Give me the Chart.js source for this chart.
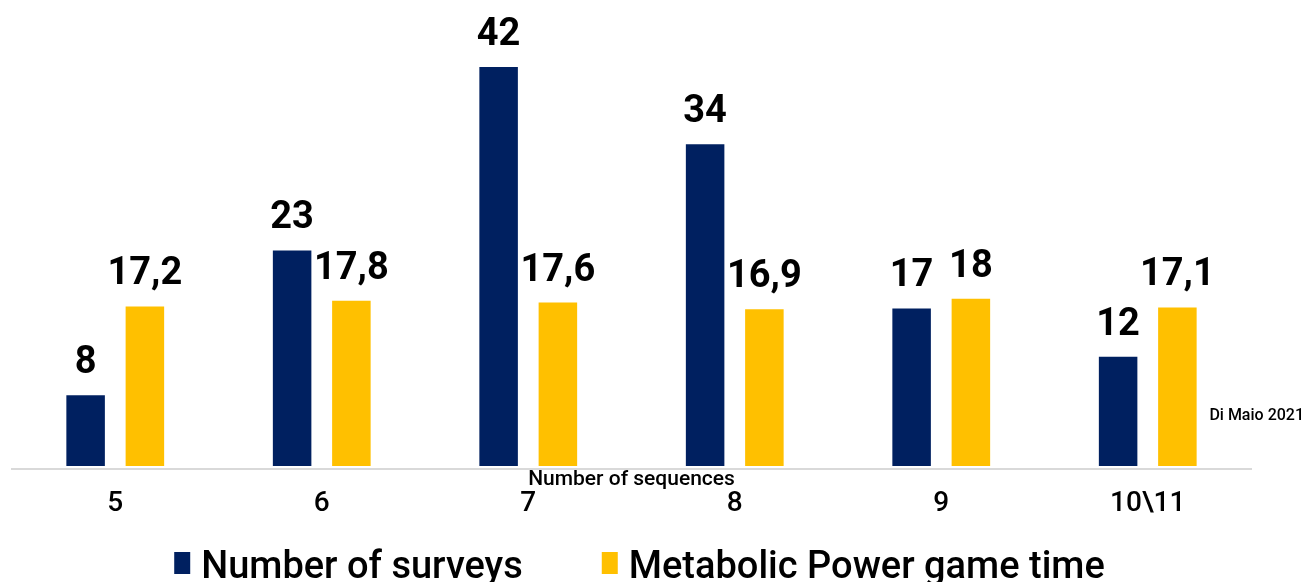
<!DOCTYPE html>
<html>
<head>
<meta charset="utf-8">
<script src="https://cdn.jsdelivr.net/npm/chart.js@4"></script>
<style>
  html, body { margin: 0; padding: 0; background: #ffffff; }
  canvas { display: block; }
</style>
</head>
<body>
<canvas id="chart" width="1307" height="582"></canvas>
<script>
// Categories and series
const categories = ['5', '6', '7', '8', '9', '10\\11'];
const surveys = [8, 23, 42, 34, 17, 12];
const gameTime = [17.2, 17.8, 17.6, 16.9, 18, 17.1];
const seriesNames = ['Number of surveys', 'Metabolic Power game time'];
const axisTitle = 'Number of sequences';
const sourceNote = 'Di Maio 2021';

const NAVY = '#002060';
const GOLD = '#FFC000';
const FONT = 'Roboto';

Chart.defaults.font.family = FONT;
Chart.defaults.color = '#000000';

// Numbers use a decimal comma
const fmt = v => String(v).replace('.', ',');

// Value above each bar
const valueLabels = {
  id: 'valueLabels',
  afterDatasetsDraw(chart) {
    const ctx = chart.ctx;
    ctx.save();
    ctx.font = `bold 38px ${FONT}`;
    ctx.fillStyle = '#000000';
    ctx.textAlign = 'center';
    ctx.textBaseline = 'alphabetic';
    chart.data.datasets.forEach((ds, i) => {
      chart.getDatasetMeta(i).data.forEach((bar, j) => {
        ctx.fillText(fmt(ds.data[j]), bar.x, bar.y - 22);
      });
    });
    ctx.restore();
  }
};

// Legend row along the bottom edge
const bottomLegend = {
  id: 'bottomLegend',
  afterDraw(chart) {
    const ctx = chart.ctx;
    const area = chart.chartArea;
    const boxW = 16, boxH = 22, boxGap = 11, itemGap = 79;
    ctx.save();
    ctx.font = `500 38px ${FONT}`;
    const items = chart.data.datasets.map(ds => ({
      text: ds.label, color: ds.backgroundColor, w: ctx.measureText(ds.label).width
    }));
    const total = items.reduce((s, it) => s + boxW + boxGap + it.w, 0) + itemGap * (items.length - 1);
    let x = (area.left + area.right) / 2 + 8 - total / 2;
    const cy = 563;
    items.forEach(it => {
      ctx.fillStyle = it.color;
      ctx.fillRect(x, cy - boxH / 2, boxW, boxH);
      x += boxW + boxGap;
      ctx.fillStyle = '#000000';
      ctx.textAlign = 'left';
      ctx.textBaseline = 'alphabetic';
      ctx.fillText(it.text, x, cy + 15);
      x += it.w + itemGap;
    });
    ctx.restore();
  }
};

// Source note at the right edge
const noteText = {
  id: 'noteText',
  afterDraw(chart) {
    const ctx = chart.ctx;
    ctx.save();
    ctx.font = `500 16px ${FONT}`;
    ctx.fillStyle = '#000000';
    ctx.textAlign = 'right';
    ctx.textBaseline = 'middle';
    ctx.fillText(sourceNote, chart.width - 3, 416);
    ctx.restore();
  }
};

new Chart(document.getElementById('chart'), {
  type: 'bar',
  data: {
    labels: categories,
    datasets: [
      { label: seriesNames[0], data: surveys, backgroundColor: NAVY, base: 0.68 },
      { label: seriesNames[1], data: gameTime, backgroundColor: GOLD, base: 0.68 }
    ]
  },
  options: {
    responsive: false,
    animation: false,
    events: [],
    categoryPercentage: 0.574,
    barPercentage: 0.65,
    layout: { padding: { top: 20, left: 12, right: 56, bottom: 64 } },
    plugins: {
      legend: { display: false },
      tooltip: { enabled: false },
      title: { display: false }
    },
    scales: {
      y: { display: false, min: 0.372, max: 46.86 },
      xt: {
        type: 'category',
        position: 'bottom',
        weight: 0,
        labels: categories,
        offset: true,
        grid: { display: false, drawTicks: false },
        border: { display: true, color: '#d9d9d9', width: 2 },
        ticks: { display: false },
        title: {
          display: true,
          text: axisTitle,
          color: '#000000',
          font: { family: FONT, size: 21, weight: '500', lineHeight: 1 },
          padding: { top: 0, bottom: 0 }
        }
      },
      x: {
        position: 'bottom',
        weight: 1,
        grid: { display: false, drawTicks: false },
        border: { display: false },
        ticks: {
          color: '#000000',
          font: { family: FONT, size: 28, weight: '500', lineHeight: 1 },
          padding: 0,
          maxRotation: 0,
          autoSkip: false
        }
      }
    }
  },
  plugins: [valueLabels, bottomLegend, noteText]
});
</script>
</body>
</html>
